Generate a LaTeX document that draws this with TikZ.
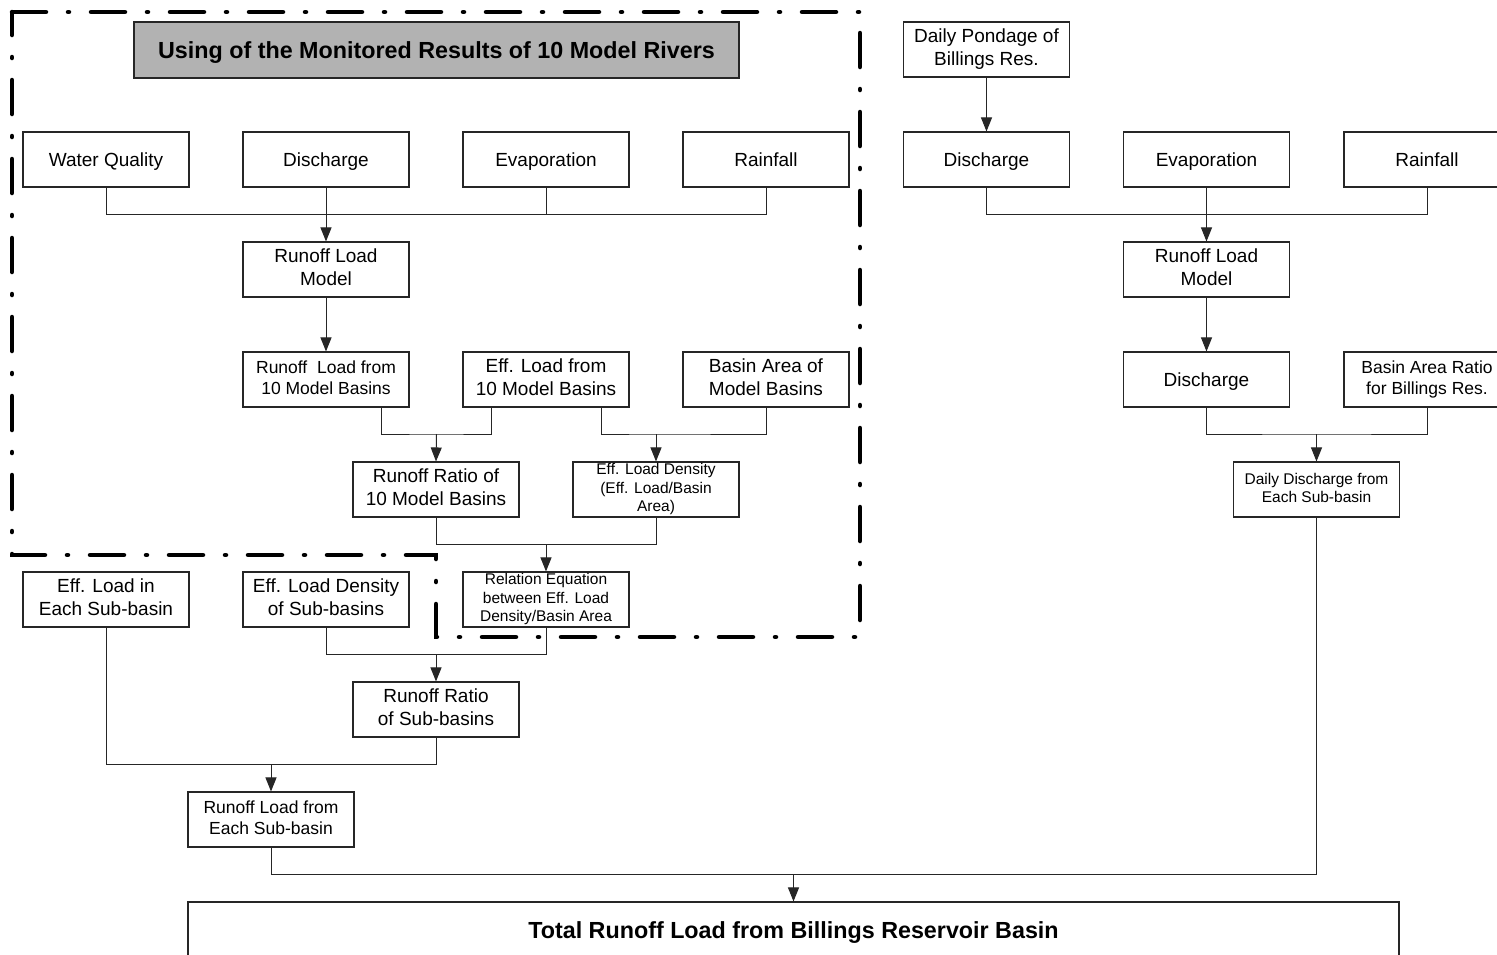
\documentclass[tikz,border=0pt]{standalone}
\usepackage{fontspec}
\setmainfont{Liberation Sans}
\usetikzlibrary{arrows.meta,calc}

% invisible strut that centres capitals optically in a box
\newcommand\boxstrut{\rule[-0.2\baselineskip]{0pt}{\baselineskip}}

\tikzset{
  box/.style={draw=black!85, line width=1.1pt, fill=white, rectangle,
    minimum width=166pt, minimum height=55pt, inner sep=0pt, align=center,
    font=\fontsize{19}{23}\selectfont,
    execute at begin node=\boxstrut, execute at end node=\boxstrut},
  midtext/.style={font=\fontsize{17.5}{21}\selectfont},
  smalltext/.style={font=\fontsize{15.5}{18.5}\selectfont},
  conn/.style={draw=black!85, line width=1pt},
  arr/.style={conn, -{Triangle[length=14pt,width=11pt]}},
  frame/.style={draw=black, line width=4.5pt, line cap=round,
    dash pattern=on 34pt off 22pt on 1pt off 22pt},
  titlebox/.style={box, fill=black!30, minimum width=605pt, minimum height=56pt,
    font=\fontsize{23.3}{27}\selectfont\bfseries},
}

\begin{document}
\begin{tikzpicture}[x=1pt,y=-1pt]
\useasboundingbox (0,0) rectangle (1497,954);
\clip (0,0) rectangle (1497,954);

% dash-dotted frame around the model-river part
\draw[frame] (12,12) -- (860,12) -- (860,637) -- (436,637) -- (436,555) -- (12,555) -- cycle;

% title
\node[titlebox] (title) at (436.5,50) {Using of the Monitored Results of 10 Model Rivers};

% left branch, first row
\node[box] (wq)  at (106,159.5) {Water Quality};
\node[box] (dis) at (326,159.5) {Discharge};
\node[box] (ev)  at (546,159.5) {Evaporation};
\node[box] (rf)  at (766,159.5) {Rainfall};

\node[box] (rlm) at (326,269.5) {Runoff Load\\Model};

\node[box, midtext] (rl10) at (326,379.5) {Runoff\ \ Load from\\10 Model Basins};
\node[box] (el10) at (546,379.5) {Eff. Load from\\10 Model Basins};
\node[box] (ba)   at (766,379.5) {Basin Area of\\Model Basins};

\node[box] (rr10) at (436,489.5) {Runoff Ratio of\\10 Model Basins};
\node[box, smalltext] (eld) at (656,489.5) {Eff. Load Density\\(Eff. Load/Basin\\Area)};

\node[box] (eli)  at (106,599.5) {Eff. Load in\\Each Sub-basin};
\node[box] (elds) at (326,599.5) {Eff. Load Density\\of Sub-basins};
\node[box, smalltext] (re) at (546,599.5) {Relation Equation\\between Eff. Load\\Density/Basin Area};

\node[box] (rrs) at (436,709.5) {Runoff Ratio\\of Sub-basins};
\node[box, midtext] (rls) at (271,819.5) {Runoff Load from\\Each Sub-basin};

% right branch
\node[box] (dp)   at (986.5,49.5) {Daily Pondage of\\Billings Res.};
\node[box] (dis2) at (986.5,159.5) {Discharge};
\node[box] (ev2)  at (1206.5,159.5) {Evaporation};
\node[box] (rf2)  at (1427,159.5) {Rainfall};
\node[box] (rlm2) at (1206.5,269.5) {Runoff Load\\Model};
\node[box] (dis3) at (1206.5,379.5) {Discharge};
\node[box, midtext] (bar) at (1427,379.5) {Basin Area Ratio\\for Billings Res.};
\node[box, smalltext] (dd) at (1316.5,489.5) {Daily Discharge from\\Each Sub-basin};

% result
\node[box, minimum width=1211pt, minimum height=56pt,
  font=\fontsize{23.3}{27}\selectfont\bfseries] (total) at (793.5,930) {Total Runoff Load from Billings Reservoir Basin};

% junction points
\coordinate (j1) at (436.5,434);
\coordinate (j2) at (656,434);
\coordinate (j3) at (1316.5,434);
\coordinate (j4) at (546,544);
\coordinate (j5) at (436,654);
\coordinate (j6) at (271,764);
\coordinate (j7) at (793.5,874);

% connectors, left branch
\draw[conn] (wq.south) -- ++(0,27) -| (rf.south);
\draw[conn] (ev.south) -- ++(0,27);
\draw[arr] (dis.south) -- (rlm.north);
\draw[arr] (rlm.south) -- (rl10.north);
\draw[conn] ([xshift=55pt]rl10.south) |- (j1) -| ([xshift=-55pt]el10.south);
\draw[arr] (j1) -- (rr10.north);
\draw[conn] ([xshift=55pt]el10.south) |- (j2) -| (ba.south);
\draw[arr] (j2) -- (eld.north);
\draw[conn] (rr10.south) |- (j4) -| (eld.south);
\draw[arr] (j4) -- (re.north);
\draw[conn] (elds.south) |- (j5) -| (re.south);
\draw[arr] (j5) -- (rrs.north);
\draw[conn] (eli.south) |- (j6) -| (rrs.south);
\draw[arr] (j6) -- (rls.north);

% connectors, right branch
\draw[arr] (dp.south) -- (dis2.north);
\draw[conn] (dis2.south) -- ++(0,27) -| (rf2.south);
\draw[arr] (ev2.south) -- (rlm2.north);
\draw[arr] (rlm2.south) -- (dis3.north);
\draw[conn] (dis3.south) |- (j3) -| (bar.south);
\draw[arr] (j3) -- (dd.north);

% final merge
\draw[conn] (rls.south) |- (j7) -| (dd.south);
\draw[arr] (j7) -- (total.north);
\end{tikzpicture}
\end{document}
